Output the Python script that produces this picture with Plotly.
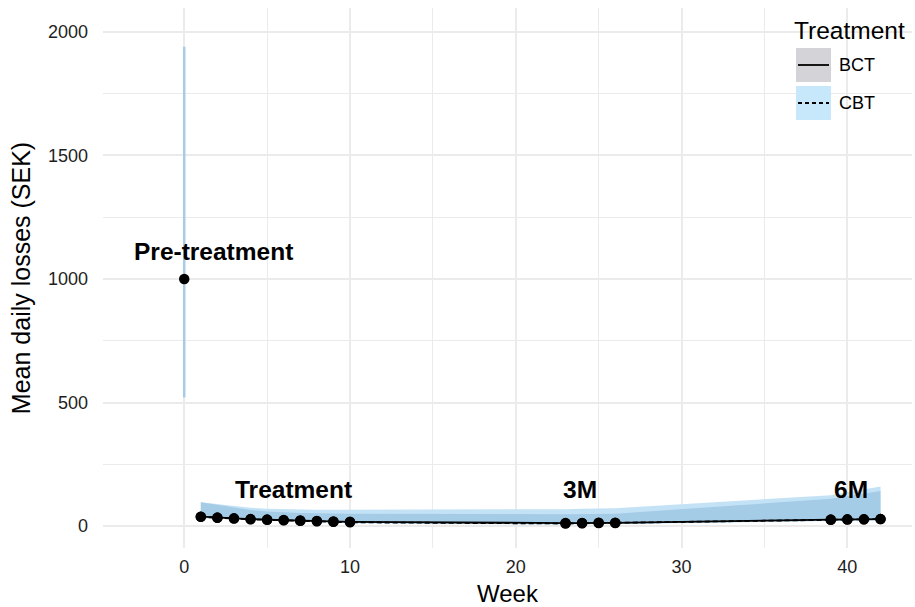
import plotly.graph_objects as go

# ---------------- data ----------------
weeks = [1, 2, 3, 4, 5, 6, 7, 8, 9, 10, 23, 24, 25, 26, 39, 40, 41, 42]
bct_mean = [38, 34, 31, 28, 26, 24, 22, 20, 18, 17, 12, 12, 13, 13, 26, 27, 27, 28]
cbt_mean = [37, 33, 30, 27, 25, 23, 21, 19, 17, 15, 10, 11, 12, 12, 25, 26, 27, 28]
bct_upper = [96, 85, 74, 65, 59, 55, 53, 52, 51, 50, 48, 48, 49, 50, 110, 120, 131, 142]
bct_lower = [33, 30, 27, 24, 22, 20, 18, 16, 14, 13, 8, 8, 9, 9, 21, 22, 22, 23]
cbt_upper = [96, 88, 80, 74, 70, 68, 67, 66, 66, 66, 68, 70, 71, 72, 125, 136, 148, 160]
cbt_lower = [32, 29, 26, 23, 21, 19, 17, 15, 13, 11, 6, 7, 8, 8, 20, 21, 22, 23]

pre_week = [0]
pre_mean = [1000]
pre_low = [520]
pre_high = [1940]

phase_labels = ["Pre-treatment", "Treatment", "3M", "6M"]
phase_x = [1.75, 6.6, 23.85, 40.2]
phase_y = [1113, 146, 146, 146]

legend_title = "Treatment"
legend_names = ["BCT", "CBT"]

x_ticks = [0, 10, 20, 30, 40]
y_ticks = [0, 500, 1000, 1500, 2000]

# ---------------- layout geometry ----------------
W, H = 915, 607
L, R, T, B = 103, 3, 8, 59
PW, PH = W - L - R, H - T - B


def px_x(px):
    return (px - L) / PW


def px_y(py):
    return (H - B - py) / PH


FONT = "Liberation Sans, Arial, Helvetica, sans-serif"
LIGHT = "#c4e2f6"
DARK = "#a5cce7"
DASH = "5px,3px"

fig = go.Figure()

# ribbons
fig.add_trace(go.Scatter(x=weeks, y=cbt_lower, mode="lines", line=dict(width=0),
                         showlegend=False, hoverinfo="skip"))
fig.add_trace(go.Scatter(x=weeks, y=cbt_upper, mode="lines", line=dict(width=0),
                         fill="tonexty", fillcolor=LIGHT, showlegend=False, hoverinfo="skip"))
fig.add_trace(go.Scatter(x=weeks, y=bct_lower, mode="lines", line=dict(width=0),
                         showlegend=False, hoverinfo="skip"))
fig.add_trace(go.Scatter(x=weeks, y=bct_upper, mode="lines", line=dict(width=0),
                         fill="tonexty", fillcolor=DARK, showlegend=False, hoverinfo="skip"))

# lines + points
fig.add_trace(go.Scatter(x=weeks, y=bct_mean, mode="lines+markers", name="BCT",
                         line=dict(color="black", width=1.8),
                         marker=dict(color="black", size=10.5), showlegend=False))
fig.add_trace(go.Scatter(x=weeks, y=cbt_mean, mode="lines+markers", name="CBT",
                         line=dict(color="black", width=1.8, dash=DASH),
                         marker=dict(color="black", size=10.5), showlegend=False))

# pre-treatment point with error bar
fig.add_trace(go.Scatter(
    x=pre_week, y=pre_mean, mode="markers",
    marker=dict(color="black", size=10.5),
    error_y=dict(type="data", symmetric=False,
                 array=[h - m for h, m in zip(pre_high, pre_mean)],
                 arrayminus=[m - l for l, m in zip(pre_low, pre_mean)],
                 color="#a9cbe6", thickness=2.5, width=0),
    showlegend=False))

# phase labels
for txt, xx, yy in zip(phase_labels, phase_x, phase_y):
    fig.add_annotation(x=xx, y=yy, text="<b>%s</b>" % txt, showarrow=False,
                       font=dict(family=FONT, size=24.5, color="black"),
                       xanchor="center", yanchor="middle")

# custom legend (ggplot style keys)
shapes = []
key_fill = ["#d4d4d8", "#c7e8fb"]
key_dash = ["solid", "4px,3px"]
key_top = [48, 86]
for nm, fc, ds, kt in zip(legend_names, key_fill, key_dash, key_top):
    shapes.append(dict(type="rect", xref="paper", yref="paper",
                       x0=px_x(796), x1=px_x(831), y0=px_y(kt + 34), y1=px_y(kt),
                       fillcolor=fc, line=dict(width=0), layer="above"))
    shapes.append(dict(type="line", xref="paper", yref="paper",
                       x0=px_x(798), x1=px_x(829), y0=px_y(kt + 17), y1=px_y(kt + 17),
                       line=dict(color="black", width=1.8, dash=ds), layer="above"))
    fig.add_annotation(xref="paper", yref="paper", x=px_x(837), y=px_y(kt + 17),
                       text=nm, showarrow=False, xanchor="left", yanchor="middle",
                       font=dict(family=FONT, size=18, color="black"))
fig.add_annotation(xref="paper", yref="paper", x=px_x(792), y=px_y(30),
                   text=legend_title, showarrow=False, xanchor="left", yanchor="middle",
                   font=dict(family=FONT, size=24.5, color="black"))

grid = "#ebebeb"
fig.update_layout(
    width=W, height=H,
    margin=dict(l=L, r=R, t=T, b=B, pad=0),
    plot_bgcolor="white", paper_bgcolor="white",
    font=dict(family=FONT, color="black"),
    shapes=shapes,
    showlegend=False,
    xaxis=dict(range=[-4.9, 43.9], tickvals=x_ticks, showgrid=True, gridcolor=grid,
               gridwidth=2, zeroline=False, showline=False, ticks="",
               tickfont=dict(size=18, color="#1e1e1e"), ticklabelstandoff=6,
               minor=dict(dtick=5, tick0=-5, showgrid=True, gridcolor=grid, gridwidth=1),
               title=dict(text="Week", font=dict(size=24, color="black"), standoff=10)),
    yaxis=dict(range=[-89, 2097], tickvals=y_ticks, showgrid=True, gridcolor=grid,
               gridwidth=2, zeroline=False, showline=False, ticks="",
               tickfont=dict(size=18, color="#1e1e1e"), ticklabelstandoff=14,
               minor=dict(dtick=250, tick0=-250, showgrid=True, gridcolor=grid, gridwidth=1),
               title=dict(text="Mean daily losses (SEK)", font=dict(size=25, color="black"),
                          standoff=10)),
)

fig.write_html("out.html", config={"displayModeBar": False},
               post_script="document.body.style.margin='0px';")
